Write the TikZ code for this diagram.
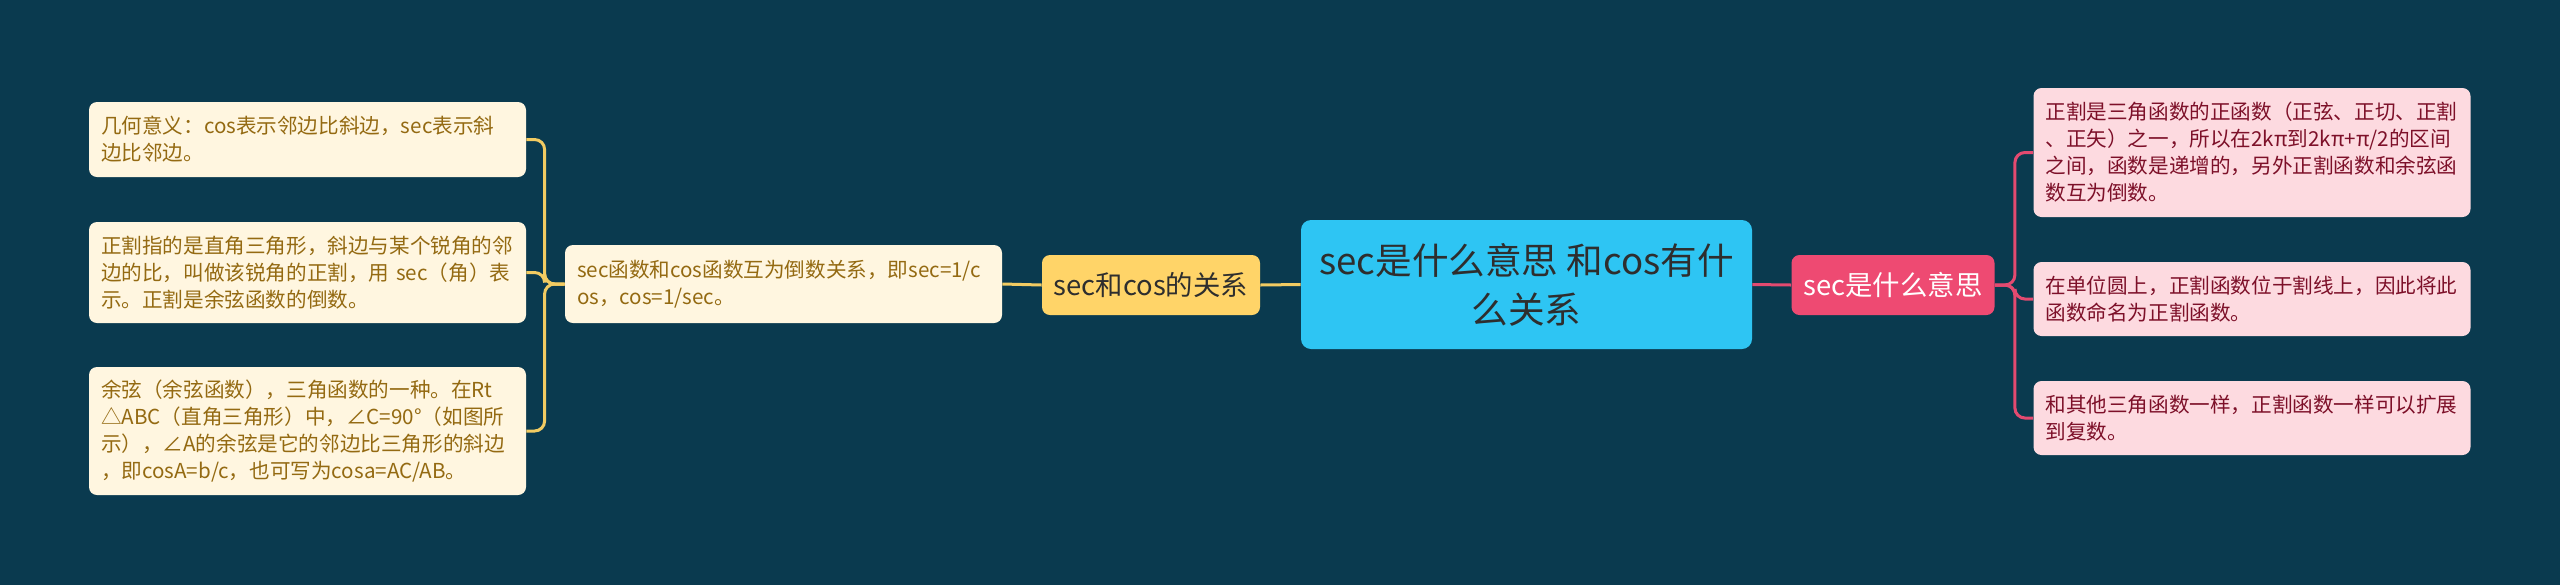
\documentclass[tikz,border=0pt]{standalone}
\usepackage{fontspec}
\setmainfont{Noto Sans CJK SC}
\hyphenpenalty=10000
\exhyphenpenalty=10000
\definecolor{bg}{HTML}{0A3A4F}
\definecolor{rootfill}{HTML}{2EC5F3}
\definecolor{darktext}{HTML}{2E2E2E}
\definecolor{redfill}{HTML}{EE4A72}
\definecolor{yelfill}{HTML}{FFD468}
\definecolor{cream}{HTML}{FFF6E0}
\definecolor{creamtext}{HTML}{946A12}
\definecolor{pink}{HTML}{FDDAE0}
\definecolor{pinktext}{HTML}{7D1029}
\definecolor{yline}{HTML}{F2CB62}
\definecolor{rline}{HTML}{E34A70}
\tikzset{
  leafbox/.style={rectangle, rounded corners=4pt, align=left,
    font=\fontsize{10.3}{13.5}\selectfont,
    text width=206.5pt, inner xsep=6pt, inner ysep=0pt, minimum width=218.5pt},
  creamleaf/.style={leafbox, fill=cream, text=creamtext},
  pinkleaf/.style={leafbox, fill=pink, text=pinktext},
  rootbox/.style={rectangle, rounded corners=5pt, fill=rootfill, text=darktext,
    align=center, font=\fontsize{18.3}{24.5}\selectfont,
    minimum width=225.5pt, minimum height=64.5pt, inner sep=0pt},
  subbox/.style={rectangle, rounded corners=4pt, font=\fontsize{13.7}{16}\selectfont,
    minimum height=30pt, inner sep=0pt},
  yconn/.style={draw=yline, line width=1.5pt},
  rconn/.style={draw=rline, line width=1.5pt}
}
\begin{document}
\begin{tikzpicture}[x=0.5pt, y=-0.5pt]
\fill[bg] (0,0) rectangle (2560,585);
\useasboundingbox (0,0) rectangle (2560,585);

\node[rootbox] (root) at (1526.5,284.5) {sec是什么意思~和cos有什\\么关系};
\node[subbox, fill=redfill, text=white, minimum width=101.5pt] (red) at (1893,285) {sec是什么意思};
\node[subbox, fill=yelfill, text=darktext, minimum width=109pt] (yel) at (1151,285) {sec和cos的关系};

\node[creamleaf, minimum height=39pt] (mid) at (783.5,284) {sec函数和cos函数互为倒数关系，即sec=1/c\\os，cos=1/sec。};

\node[creamleaf, minimum height=37.5pt] (l1) at (307.5,139.5) {几何意义：cos表示邻边比斜边，sec表示斜\\边比邻边。};
\node[creamleaf, minimum height=50.5pt] (l2) at (307.5,272.5) {正割指的是直角三角形，斜边与某个锐角的邻\\边的比，叫做该锐角的正割，用~sec（角）表\\示。正割是余弦函数的倒数。};
\node[creamleaf, minimum height=64pt] (l3) at (307.5,431) {余弦（余弦函数），三角函数的一种。在Rt\\△ABC（直角三角形）中，∠C=90°（如图所\\示），∠A的余弦是它的邻边比三角形的斜边\\，即cosA=b/c，也可写为cosa=AC/AB。};

\node[pinkleaf, minimum height=64.5pt] (r1) at (2252,152.5) {正割是三角函数的正函数（正弦、正切、正割\\、正矢）之一，所以在2kπ到2kπ+π/2的区间\\之间，函数是递增的，另外正割函数和余弦函\\数互为倒数。};
\node[pinkleaf, minimum height=37pt] (r2) at (2252,299) {在单位圆上，正割函数位于割线上，因此将此\\函数命名为正割函数。};
\node[pinkleaf, minimum height=37pt] (r3) at (2252,418) {和其他三角函数一样，正割函数一样可以扩展\\到复数。};

\draw[rconn] (root.east) -- (red.west);
\draw[yconn] (root.west) -- (yel.east);
\draw[yconn] (yel.west) -- (mid.east);

\draw[yconn, rounded corners=5pt] (mid.west) -- ++(-20,0) |- (l1.east);
\draw[yconn, rounded corners=5pt] (mid.west) -- ++(-20,0) |- (l2.east);
\draw[yconn, rounded corners=5pt] (mid.west) -- ++(-20,0) |- (l3.east);

\draw[rconn, rounded corners=5pt] (red.east) -- ++(20,0) |- (r1.west);
\draw[rconn, rounded corners=5pt] (red.east) -- ++(20,0) |- (r2.west);
\draw[rconn, rounded corners=5pt] (red.east) -- ++(20,0) |- (r3.west);
\end{tikzpicture}
\end{document}
